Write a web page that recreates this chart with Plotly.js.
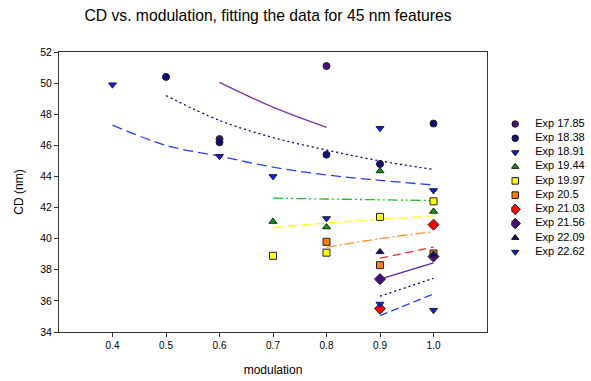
<!DOCTYPE html>
<html>
<head>
<meta charset="utf-8">
<script src="https://cdn.plot.ly/plotly-3.0.1.min.js"></script>
<style>html,body{margin:0;padding:0;background:#fff;}#chart{width:591px;height:381px;}</style>
</head>
<body>
<div id="chart"></div>
<script>
// Series names
const seriesNames = ["Exp 17.85","Exp 18.38","Exp 18.91","Exp 19.44","Exp 19.97","Exp 20.5","Exp 21.03","Exp 21.56","Exp 22.09","Exp 22.62"];

// Measured points (x = modulation, y = CD nm)
const x1785 = [0.6, 0.8];             const y1785 = [46.4, 51.1];
const x1838 = [0.5, 0.6, 0.8, 0.9, 1.0]; const y1838 = [50.4, 46.2, 45.4, 44.8, 47.4];
const x1891 = [0.4, 0.6, 0.7, 0.8, 0.9, 1.0]; const y1891 = [49.9, 45.3, 44.0, 41.3, 47.1, 43.1];
const x1944 = [0.7, 0.8, 0.9, 1.0];   const y1944 = [41.1, 40.75, 44.35, 41.75];
const x1997 = [0.7, 0.8, 0.9, 1.0];   const y1997 = [38.9, 39.1, 41.4, 42.4];
const x2050 = [0.8, 0.9, 1.0];        const y2050 = [39.8, 38.3, 39.05];
const x2103 = [0.9, 1.0];             const y2103 = [35.5, 40.9];
const x2156 = [0.9, 1.0];             const y2156 = [37.4, 38.85];
const x2209 = [0.9, 1.0];             const y2209 = [39.15, 38.95];
const x2262 = [0.9, 1.0];             const y2262 = [35.8, 35.4];

// Fitted curves
const fx1785 = [0.6, 0.7, 0.8];       const fy1785 = [50.05, 48.45, 47.15];
const fx1838 = [0.5, 0.6, 0.7, 0.8, 0.9, 1.0]; const fy1838 = [49.2, 47.6, 46.5, 45.7, 45.0, 44.45];
const fx1891 = [0.4, 0.5, 0.6, 0.7, 0.8, 0.9, 1.0]; const fy1891 = [47.3, 46.0, 45.3, 44.6, 44.1, 43.75, 43.45];
const fx1944 = [0.7, 0.8, 0.9, 1.0];  const fy1944 = [42.6, 42.55, 42.5, 42.45];
const fx1997 = [0.7, 0.8, 0.9, 1.0];  const fy1997 = [40.7, 41.0, 41.25, 41.45];
const fx2050 = [0.8, 0.9, 1.0];       const fy2050 = [39.45, 40.0, 40.45];
const fx2103 = [0.9, 1.0];            const fy2103 = [38.75, 39.45];
const fx2156 = [0.9, 1.0];            const fy2156 = [37.4, 38.45];
const fx2209 = [0.9, 1.0];            const fy2209 = [36.3, 37.45];
const fx2262 = [0.9, 1.0];            const fy2262 = [35.05, 36.45];

const pts = [[x1785,y1785],[x1838,y1838],[x1891,y1891],[x1944,y1944],[x1997,y1997],[x2050,y2050],[x2103,y2103],[x2156,y2156],[x2209,y2209],[x2262,y2262]];
const fits = [[fx1785,fy1785],[fx1838,fy1838],[fx1891,fy1891],[fx1944,fy1944],[fx1997,fy1997],[fx2050,fy2050],[fx2103,fy2103],[fx2156,fy2156],[fx2209,fy2209],[fx2262,fy2262]];

const mColors = ["#4B0C7E","#0A0A80","#0A1AF0","#00A000","#FFFF00","#FF8000","#FF0000","#4B0C7E","#0A0A80","#0A1AF0"];
const lColors = ["#7A35A8","#000080","#2040FF","#20C020","#FFFF20","#FF9030","#FF2020","#6020A0","#000090","#2040FF"];
const symbols = ["circle","circle","triangle-down","triangle-up","square","square","diamond","diamond","triangle-up","triangle-down"];
const dashes = ["solid","2px,3px","10px,5px","10px,3px,2px,3px,2px,3px","10px,4px","10px,3px,2px,3px","8px,5px","solid","2px,3px","8px,4px"];

const traces = [];
fits.forEach((f,i)=>{
  traces.push({x:f[0], y:f[1], mode:'lines', type:'scatter', showlegend:false, hoverinfo:'skip',
    line:{color:lColors[i], width:1.3, dash:dashes[i], shape:'spline'}});
});
pts.forEach((p,i)=>{
  traces.push({x:p[0], y:p[1], mode:'markers', type:'scatter', name:seriesNames[i], showlegend:false,
    marker:{symbol:symbols[i], color:mColors[i], size:(symbols[i]==='diamond'?8.5:7), line:{color:'#222', width:1}}});
});

// Key (legend) drawn on a hidden auxiliary axis pair: one row per series index
const keyRows = seriesNames.map((_, i) => i);
keyRows.forEach(i=>{
  traces.push({x:[4], y:[i], xaxis:'x2', yaxis:'y2', mode:'markers', type:'scatter',
    showlegend:false, hoverinfo:'skip',
    marker:{symbol:symbols[i], color:mColors[i], size:(symbols[i]==='diamond'?8:6.5), opacity:1, line:{color:'#111', width:1}}});
});
traces.push({x:keyRows.map(()=>24), y:keyRows, xaxis:'x2', yaxis:'y2', mode:'text', type:'scatter',
  showlegend:false, hoverinfo:'skip', text:seriesNames, textposition:'middle right',
  textfont:{size:11, color:'#000'}});

const layout = {
  width:591, height:381,
  margin:{l:59, r:0, t:52, b:49},
  paper_bgcolor:'#fff', plot_bgcolor:'#fff',
  font:{family:'"Liberation Sans", Arial, sans-serif', color:'#000', size:10},
  title:{text:'CD vs. modulation, fitting the data for 45 nm features', font:{size:15.7, color:'#000'},
    x:0.4535, xref:'container', y:0.958, yref:'container', xanchor:'center', yanchor:'middle'},
  xaxis:{domain:[0, 428/532], range:[0.3,1.1], tickvals:[0.4,0.5,0.6,0.7,0.8,0.9,1.0], ticktext:['0.4','0.5','0.6','0.7','0.8','0.9','1.0'],
    showgrid:false, zeroline:false, showline:true, linecolor:'#333', linewidth:1, mirror:true,
    ticks:'outside', ticklen:4, tickcolor:'#333', tickfont:{size:10},
    title:{text:'modulation', font:{size:12}, standoff:15}},
  yaxis:{range:[34,52], dtick:2, showgrid:false, zeroline:false, showline:true, linecolor:'#333', linewidth:1, mirror:true,
    ticks:'outside', ticklen:4, tickcolor:'#333', tickfont:{size:10.5},
    title:{text:'CD (nm)', font:{size:12}, standoff:14}},
  xaxis2:{domain:[0.85,1], range:[0,80], visible:false, fixedrange:true, anchor:'y2'},
  yaxis2:{domain:[0,1], range:[14.625,-5.0625], visible:false, fixedrange:true, anchor:'x2'},
  showlegend:false
};

Plotly.newPlot('chart', traces, layout, {displayModeBar:false, staticPlot:true});
</script>
</body>
</html>
